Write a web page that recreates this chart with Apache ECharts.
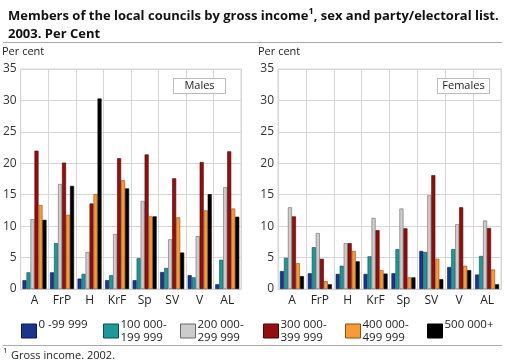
<!DOCTYPE html>
<html><head><meta charset="utf-8">
<script src="https://cdn.jsdelivr.net/npm/echarts@6/dist/echarts.min.js"></script>
<style>html,body{margin:0;padding:0;background:#fff}#c{width:505px;height:364px}</style>
</head><body><div id="c"></div>
<script>
const categories = ['A','FrP','H','KrF','Sp','SV','V','AL'];
const incomeGroups = ['0 -99 999','100 000-199 999','200 000-299 999','300 000-399 999','400 000-499 999','500 000+'];
const yTicks = [0,5,10,15,20,25,30,35];
// Males, per income group, across categories
const males0 = [1.4, 2.65, 1.65, 1.4, 1.4, 2.7, 2.2, 0.75];
const males1 = [2.65, 7.3, 2.4, 2.2, 4.9, 3.35, 1.85, 4.65];
const males2 = [11.1, 16.7, 5.9, 8.75, 14.0, 7.9, 8.4, 16.2];
const males3 = [22.0, 20.1, 13.6, 20.8, 21.4, 17.6, 20.2, 21.9];
const males4 = [13.35, 11.8, 15.1, 17.3, 11.55, 11.4, 12.5, 12.8];
const males5 = [11.0, 16.4, 30.3, 16.0, 11.55, 5.8, 15.1, 11.5];
// Females
const females0 = [2.85, 2.5, 2.4, 2.4, 2.5, 6.05, 3.5, 2.3];
const females1 = [4.95, 6.65, 3.7, 5.2, 6.35, 5.9, 6.35, 5.25];
const females2 = [13.0, 8.9, 7.3, 11.3, 12.8, 14.9, 10.3, 10.9];
const females3 = [11.55, 4.8, 7.3, 9.35, 9.65, 18.1, 13.0, 9.7];
const females4 = [4.1, 1.25, 6.05, 3.0, 1.85, 4.8, 3.7, 3.1];
const females5 = [2.05, 0.75, 4.4, 2.45, 1.85, 1.55, 3.0, 0.75];

const colors = ['#1b358f','#1a9a98','#cccccc','#970d0d','#f89b33','#000000'];
const borders = ['#0d1a50','#0c4f4e','#6a6a6a','#4a0505','#8a5010','#000000'];
const maleData = [males0,males1,males2,males3,males4,males5];
const femaleData = [females0,females1,females2,females3,females4,females5];

const chart = echarts.init(document.getElementById('c'));
const font = 'Open Sans';
function yAxis(gi){
  return {gridIndex:gi, type:'value', min:0, max:35, interval:5,
    axisLine:{show:false}, axisTick:{show:false},
    axisLabel:{color:'#333', fontSize:12, fontFamily:font, margin:4},
    splitLine:{lineStyle:{color:'#d6d6d6', width:1}}};
}
function xAxis(gi){
  return {gridIndex:gi, type:'category', data:categories,
    axisLine:{lineStyle:{color:'#cfcfcf'}}, axisTick:{show:false},
    axisLabel:{color:'#222', fontSize:12, fontFamily:font, margin:6, interval:0},
    splitLine:{show:true, interval:0, lineStyle:{color:'#d6d6d6'}}};
}
const series = [];
[maleData, femaleData].forEach((set, gi) => {
  set.forEach((arr, i) => {
    series.push({name:incomeGroups[i], type:'bar', xAxisIndex:gi, yAxisIndex:gi, data:arr,
      barWidth:4, barGap:'0%', itemStyle:{color:colors[i], borderColor:borders[i], borderWidth:0.6},
      silent:true});
  });
});
const legendX = [16, 98, 175, 258, 340, 422];
const legends = incomeGroups.map((n,i)=>({
  data:[n], left:legendX[i], top:313, orient:'horizontal', itemWidth:15, itemHeight:14, itemGap:0,
  icon:'rect', selectedMode:false,
  textStyle:{fontSize:11.5, fontFamily:font, color:'#222', lineHeight:13, padding:[0,0,0,-3]},
  formatter: function(name){
    const m = name.match(/^(\d+ 000-)(.+)$/);
    if (m) return m[1] + '\n' + m[2];
    return name + '\n ';
  },
  itemStyle:{borderColor:borders[i], borderWidth:1}
}));

chart.setOption({
  animation:false,
  title:{text:'Members of the local councils by gross income{s|1}, sex and party/electoral list.\n2003. Per Cent',
    left:3, top:2,
    textStyle:{fontSize:13, fontWeight:'bold', fontFamily:font, color:'#111', lineHeight:18,
      rich:{s:{fontSize:9, fontWeight:'bold', fontFamily:font, verticalAlign:'top', lineHeight:18, padding:[0,0,6,0]}}}},
  grid:[
    {left:17, top:69, width:224, height:220, show:true, borderColor:'#d6d6d6', borderWidth:1, containLabel:false},
    {left:278, top:69, width:223, height:220, show:true, borderColor:'#d6d6d6', borderWidth:1, containLabel:false}
  ],
  xAxis:[xAxis(0), xAxis(1)],
  yAxis:[yAxis(0), yAxis(1)],
  legend:legends,
  series:series,
  graphic:[
    {type:'line', shape:{x1:3,y1:42.5,x2:502,y2:42.5}, style:{stroke:'#aaaaaa', lineWidth:1}},
    {type:'line', shape:{x1:3,y1:345.5,x2:502,y2:345.5}, style:{stroke:'#aaaaaa', lineWidth:1}},
    {type:'text', left:2, top:46, style:{text:'Per cent', fontSize:11, fontFamily:font, fill:'#222'}},
    {type:'text', left:258, top:46, style:{text:'Per cent', fontSize:11, fontFamily:font, fill:'#222'}},
    {type:'rect', shape:{x:173.5,y:78.5,width:52,height:15}, style:{fill:'#fff', stroke:'#bbbbbb', lineWidth:1}, z:100},
    {type:'text', x:199.5, y:86, style:{text:'Males', fontSize:11, fontFamily:font, fill:'#222', align:'center', verticalAlign:'middle'}, z:101},
    {type:'rect', shape:{x:437.5,y:78.5,width:52,height:15}, style:{fill:'#fff', stroke:'#bbbbbb', lineWidth:1}, z:100},
    {type:'text', x:463.5, y:86, style:{text:'Females', fontSize:11, fontFamily:font, fill:'#222', align:'center', verticalAlign:'middle'}, z:101},
    {type:'text', left:3, top:347, style:{text:'1', fontSize:8, fontFamily:font, fill:'#222'}},
    {type:'text', left:11, top:350, style:{text:'Gross income. 2002.', fontSize:11, fontFamily:font, fill:'#222'}}
  ]
});
</script></body></html>
